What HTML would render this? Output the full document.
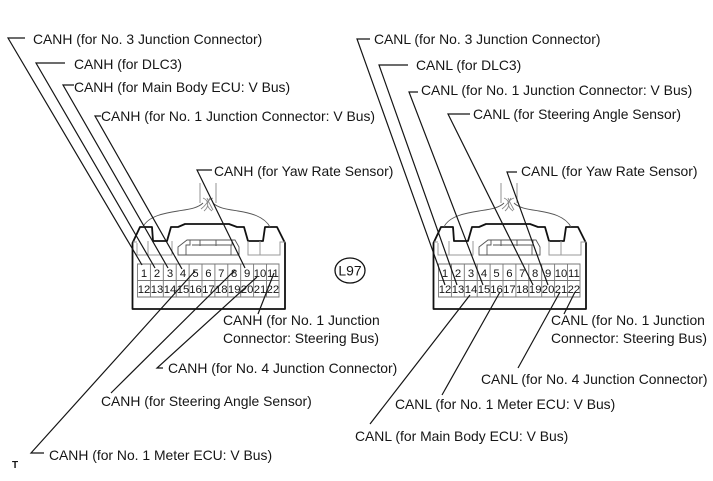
<!DOCTYPE html>
<html><head><meta charset="utf-8"><style>
html,body{margin:0;padding:0;background:#fff}
svg{display:block}
.t{font:13.9px "Liberation Sans",Arial,sans-serif;fill:#151515}
.n{font:11.3px "Liberation Sans",Arial,sans-serif;fill:#151515;text-anchor:middle}
.l{fill:none;stroke:#151515;stroke-width:1.2}
</style></head><body>
<svg width="713" height="481" viewBox="0 0 713 481" xmlns="http://www.w3.org/2000/svg">
<defs>
<g id="conn">
<path d="M132.500 243V309H285V243L277 227H265L263 241H248L244 227H237L229 224H193L185 224L178 227H171L167 241H153L152 227H140Z" fill="#fff" stroke="#111" stroke-width="1.8" stroke-linejoin="round"/>
<path d="M133 242H137M148 241V255H137V243M172 241V255H148M248 241V255H280V242H285M260 241V255" fill="none" stroke="#999" stroke-width="1"/>
<path d="M178 255V247L187 240H235L239 247V255ZM186 255V245H190V240M192 245H232V240M200 240V246M216 240V246M231 245V255" fill="none" stroke="#555" stroke-width="0.9"/>
<path d="M143 227C148 216 165 213 178 211C190 209 198 208 203 203M270 227C264 216 250 213 238 211C226 209 218 208 213 203" fill="none" stroke="#555" stroke-width="0.9"/>
<path d="M200 183V203M216 183V203M203 198C208 200 210 206 204 211M213 198C207 200 205 206 212 211M207 198C209 203 211 206 213 210M210 198C207 203 205 206 201 209" fill="none" stroke="#888" stroke-width="0.9"/>
<path d="M137.500 264H279V297H137.500ZM137.500 280.500H279M150.400 264V297M163.300 264V297M176.200 264V297M189.100 264V297M202 264V297M214.900 264V297M227.800 264V297M240.700 264V297M253.600 264V297M266.500 264V297" fill="none" stroke="#777" stroke-width="0.9"/>
</g>
</defs>

<use href="#conn"/>
<use href="#conn" x="301"/>

<g>
<text class="n" x="144" y="277">1</text><text class="n" x="157" y="277">2</text><text class="n" x="170" y="277">3</text><text class="n" x="183" y="277">4</text><text class="n" x="195.500" y="277">5</text><text class="n" x="208.400" y="277">6</text><text class="n" x="221.300" y="277">7</text><text class="n" x="234.200" y="277">8</text><text class="n" x="247.100" y="277">9</text><text class="n" x="260" y="277">10</text><text class="n" x="272.900" y="277">11</text>
<text class="n" x="144" y="293">12</text><text class="n" x="157" y="293">13</text><text class="n" x="170" y="293">14</text><text class="n" x="183" y="293">15</text><text class="n" x="195.500" y="293">16</text><text class="n" x="208.400" y="293">17</text><text class="n" x="221.300" y="293">18</text><text class="n" x="234.200" y="293">19</text><text class="n" x="247.100" y="293">20</text><text class="n" x="260" y="293">21</text><text class="n" x="272.900" y="293">22</text>
</g>
<g transform="translate(301 0)">
<text class="n" x="144" y="277">1</text><text class="n" x="157" y="277">2</text><text class="n" x="170" y="277">3</text><text class="n" x="183" y="277">4</text><text class="n" x="195.500" y="277">5</text><text class="n" x="208.400" y="277">6</text><text class="n" x="221.300" y="277">7</text><text class="n" x="234.200" y="277">8</text><text class="n" x="247.100" y="277">9</text><text class="n" x="260" y="277">10</text><text class="n" x="272.900" y="277">11</text>
<text class="n" x="144" y="293">12</text><text class="n" x="157" y="293">13</text><text class="n" x="170" y="293">14</text><text class="n" x="183" y="293">15</text><text class="n" x="195.500" y="293">16</text><text class="n" x="208.400" y="293">17</text><text class="n" x="221.300" y="293">18</text><text class="n" x="234.200" y="293">19</text><text class="n" x="247.100" y="293">20</text><text class="n" x="260" y="293">21</text><text class="n" x="272.900" y="293">22</text>
</g>

<g>
<path class="l" d="M25 38H8L142 265"/>
<path class="l" d="M65 63H36L155 268"/>
<path class="l" d="M74 85H63L168 268"/>
<path class="l" d="M101 116H95L182 269"/>
<path class="l" d="M212 170H197L245 268"/>
<path class="l" d="M44 453H31L195 271"/>
<path class="l" d="M111 393L235 270"/>
<path class="l" d="M163 368H157L257 277"/>
<path class="l" d="M258 314L274 273"/>
<path class="l" d="M370 39H357L445 285"/>
<path class="l" d="M408 65H379L457 285"/>
<path class="l" d="M418 92H409L483 285"/>
<path class="l" d="M470 114H448L533 285"/>
<path class="l" d="M517 172H507L548 285"/>
<path class="l" d="M370 424L470 295"/>
<path class="l" d="M442 395L500 292"/>
<path class="l" d="M518 368L560 292"/>
<path class="l" d="M564 314L575 292"/>
</g>

<ellipse cx="350" cy="270.500" rx="15" ry="12.500" fill="#fff" stroke="#111" stroke-width="1.3"/>
<text class="t" x="350" y="275.500" text-anchor="middle">L97</text>

<text class="t" x="33" y="44">CANH (for No. 3 Junction Connector)</text>
<text class="t" x="74" y="69">CANH (for DLC3)</text>
<text class="t" x="74" y="92">CANH (for Main Body ECU: V Bus)</text>
<text class="t" x="101" y="121">CANH (for No. 1 Junction Connector: V Bus)</text>
<text class="t" x="214" y="176">CANH (for Yaw Rate Sensor)</text>
<text class="t" x="223" y="325">CANH (for No. 1 Junction</text>
<text class="t" x="223" y="343">Connector: Steering Bus)</text>
<text class="t" x="168" y="373">CANH (for No. 4 Junction Connector)</text>
<text class="t" x="101" y="406">CANH (for Steering Angle Sensor)</text>
<text class="t" x="49" y="460">CANH (for No. 1 Meter ECU: V Bus)</text>
<text x="12" y="468" style="font:bold 10px 'Liberation Sans',Arial,sans-serif;fill:#151515">T</text>

<text class="t" x="374" y="44">CANL (for No. 3 Junction Connector)</text>
<text class="t" x="416" y="70">CANL (for DLC3)</text>
<text class="t" x="421" y="95">CANL (for No. 1 Junction Connector: V Bus)</text>
<text class="t" x="473" y="119">CANL (for Steering Angle Sensor)</text>
<text class="t" x="521" y="176">CANL (for Yaw Rate Sensor)</text>
<text class="t" x="551" y="325">CANL (for No. 1 Junction</text>
<text class="t" x="551" y="343">Connector: Steering Bus)</text>
<text class="t" x="481" y="384">CANL (for No. 4 Junction Connector)</text>
<text class="t" x="395" y="409">CANL (for No. 1 Meter ECU: V Bus)</text>
<text class="t" x="355" y="441">CANL (for Main Body ECU: V Bus)</text>
</svg>
</body></html>
